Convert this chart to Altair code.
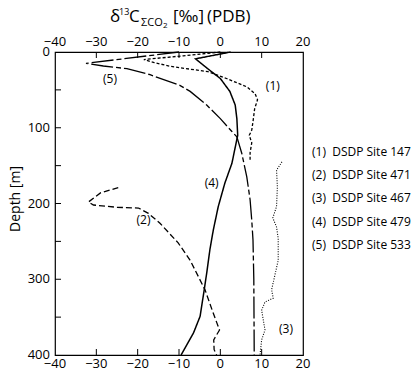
import altair as alt
import pandas as pd

FONT = "Open Sans"

# (1) DSDP Site 147
s147_depth = [0, 5, 10, 14, 19, 26, 35, 46, 55, 63, 75, 92, 103, 110, 120, 133, 145]
s147_d13c = [0, -9, -18.5, -16, -12, -3, 1.5, 6.4, 8.4, 9, 8.3, 7.9, 7.6, 7.0, 7.6, 7.2, 7.2]
# (2) DSDP Site 471
s471_depth = [179, 186, 198, 202, 205, 206, 213, 226, 252, 275, 314, 345, 367, 380, 393, 400]
s471_d13c = [-24.7, -29, -31.9, -30.7, -25, -19.8, -17.4, -14.6, -10.2, -7.3, -3.7, -1.7, -0.2, -1.6, -1.5, -0.9]
# (3) DSDP Site 467
s467_depth = [145, 156, 178, 204, 219, 231, 246, 275, 314, 325, 330, 341, 354, 367, 380, 400]
s467_d13c = [14.9, 13.6, 13.8, 13.6, 12.7, 13.6, 14.0, 14.0, 12.4, 12.8, 10.8, 10.0, 10.4, 10.8, 10.0, 9.6]
# (4) DSDP Site 479
s479_depth = [0, 9, 21, 35, 52, 70, 88, 110, 147, 173, 204, 235, 260, 292, 314, 349, 371, 400]
s479_d13c = [2.5, -6, -3.3, 0, 2.3, 3.6, 4.0, 4.2, 2.8, 1.1, -0.5, -1.7, -2.5, -3.3, -3.9, -4.9, -6.5, -9.5]
# (5) DSDP Site 533
s533_depth = [0, 15, 18.5, 22, 30, 44, 52, 70, 88, 105, 112, 134, 165, 195, 222, 248, 300, 400]
s533_d13c = [-10, -32.5, -28.3, -22.6, -17, -9.8, -7.3, -3.3, 0, 2.8, 4.0, 5.2, 6.4, 7.2, 7.6, 7.9, 8.1, 8.2]

curve_labels = ["(1)", "(2)", "(3)", "(4)", "(5)"]
label_d13c = [12.7, -18.6, 15.9, -2.1, -26.7]
label_depth = [45, 222, 366, 173, 36]

legend_labels = ["(1)\u00a0 DSDP Site 147", "(2)\u00a0 DSDP Site 471", "(3)\u00a0 DSDP Site 467",
                 "(4)\u00a0 DSDP Site 479", "(5)\u00a0 DSDP Site 533"]

x_labels = [-40, -30, -20, -10, 0, 10, 20]
x_ticks = [-30, -20, -10, 0, 10]
y_labels = [0, 100, 200, 300, 400]
y_ticks = [50, 100, 150, 200, 250, 300, 350]
y_title = "Depth [m]"

W, H = 248, 303
xs = alt.Scale(domain=[-40, 20], nice=False, zero=False)
ys = alt.Scale(domain=[0, 400], reverse=True, nice=False, zero=False)


def line(depth, val, dash, width=1.3):
    df = pd.DataFrame({"depth": depth, "d13c": val, "i": list(range(len(depth)))})
    return alt.Chart(df).mark_line(color="black", strokeWidth=width, strokeDash=dash).encode(
        x=alt.X("d13c:Q", scale=xs, axis=None),
        y=alt.Y("depth:Q", scale=ys, axis=None),
        order="i:Q",
    )


xl = pd.DataFrame({"d13c": x_labels})
yl = pd.DataFrame({"depth": y_labels})
xt = pd.DataFrame({"d13c": x_ticks})
yt = pd.DataFrame({"depth": y_ticks})

# tick labels drawn as text marks through the shared scales
xlab_bottom = alt.Chart(xl).mark_text(font=FONT, fontSize=13, color="black", baseline="top").encode(
    x=alt.X("d13c:Q", scale=xs, axis=None), y=alt.value(H + 3),
    text=alt.Text("d13c:Q", format="d"))
xlab_top = alt.Chart(xl).mark_text(font=FONT, fontSize=13, color="black", baseline="bottom").encode(
    x=alt.X("d13c:Q", scale=xs, axis=None), y=alt.value(-3),
    text=alt.Text("d13c:Q", format="d"))
ylab = alt.Chart(yl).mark_text(font=FONT, fontSize=13, color="black", align="right", baseline="middle").encode(
    y=alt.Y("depth:Q", scale=ys, axis=None), x=alt.value(-5),
    text=alt.Text("depth:Q", format="d"))
ytitle = alt.Chart(pd.DataFrame({"t": [y_title]})).mark_text(
    font=FONT, fontSize=14, color="black", angle=270, baseline="top").encode(
    x=alt.value(-46), y=alt.value(147), text="t:N")

tick_bottom = alt.Chart(xt).mark_rule(color="black", strokeWidth=1).encode(
    x=alt.X("d13c:Q", scale=xs, axis=None), y=alt.value(H), y2=alt.value(H - 6))
tick_top = alt.Chart(xt).mark_rule(color="black", strokeWidth=1).encode(
    x=alt.X("d13c:Q", scale=xs, axis=None), y=alt.value(0), y2=alt.value(6))
tick_left = alt.Chart(yt).mark_rule(color="black", strokeWidth=1).encode(
    y=alt.Y("depth:Q", scale=ys, axis=None), x=alt.value(0), x2=alt.value(6))

lab_df = pd.DataFrame({"t": curve_labels, "d13c": label_d13c, "depth": label_depth})
labels = alt.Chart(lab_df).mark_text(font=FONT, fontSize=12, color="black").encode(
    x=alt.X("d13c:Q", scale=xs, axis=None), y=alt.Y("depth:Q", scale=ys, axis=None), text="t:N")

dummy = pd.DataFrame({"a": [0]})


def txt(s, px, py, size, baseline="alphabetic"):
    # page coordinates -> plot coordinates (plot origin at page 55,52)
    return alt.Chart(dummy).mark_text(text=s, font=FONT, fontSize=size, color="black", align="left",
                                      baseline=baseline).encode(x=alt.value(px - 55), y=alt.value(py - 52))


title_parts = [
    txt("δ", 110, 22, 17),
    txt("13", 119, 15, 9),
    txt("C", 129, 22, 17),
    txt("ΣCO", 141, 26, 11),
    txt("2", 163, 28, 8),
    txt("[‰]", 173, 22, 17),
    txt("(PDB)", 207, 22, 17),
]

legend_y = [152, 175, 198, 222, 245]
legend_parts = [txt(s, 312, y, 12, baseline="middle") for s, y in zip(legend_labels, legend_y)]

chart = alt.layer(
    line(s147_depth, s147_d13c, [3, 2]),
    line(s471_depth, s471_d13c, [6, 3]),
    line(s467_depth, s467_d13c, [1, 1.5], width=1.1),
    line(s479_depth, s479_d13c, [1, 0], width=1.5),
    line(s533_depth, s533_d13c, [22, 3, 5, 3]),
    xlab_bottom, xlab_top, ylab, ytitle,
    tick_bottom, tick_top, tick_left, labels,
    *title_parts, *legend_parts,
).properties(
    width=W, height=H,
    autosize=alt.AutoSizeParams(type="none"),
    padding={"left": 47, "top": 44, "right": 108, "bottom": 16},
).configure_view(stroke="black", strokeWidth=1.2)

chart.save("out.html", embed_options={"renderer": "svg", "actions": False})
